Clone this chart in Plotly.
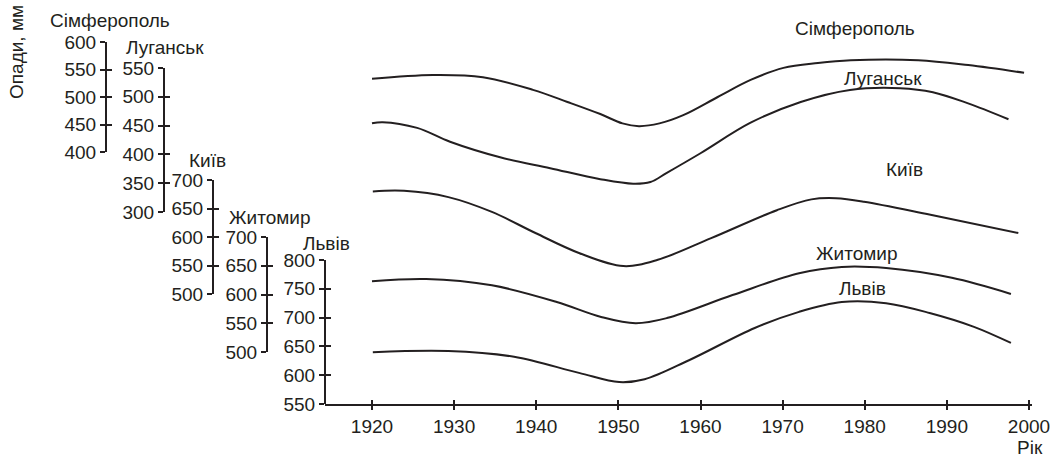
import plotly.graph_objects as go

# ---- data ----
simf_years = [1920.0, 1927.4, 1933.5, 1939.6, 1943.8, 1947.8, 1950.5, 1952.5, 1955.0, 1957.9, 1962.1, 1966.1, 1970.1, 1974.3, 1978.3, 1986.5, 1992.6, 1999.4]
simf_vals = [533, 540, 536, 513, 491, 469, 452, 447, 452, 467, 500, 531, 553, 562, 567, 567, 558, 544]

luh_years = [1920.0, 1921.3, 1925.5, 1929.5, 1935.6, 1941.7, 1947.8, 1951.8, 1953.9, 1955.9, 1960.0, 1966.1, 1972.2, 1978.2, 1984.3, 1988.3, 1992.5, 1997.5]
luh_vals = [454, 456, 446, 422, 395, 376, 357, 349, 352, 368, 402, 455, 491, 512, 515, 508, 489, 461]

kyiv_years = [1920.1, 1923.9, 1929.3, 1934.6, 1939.9, 1945.2, 1950.6, 1954.8, 1961.3, 1969.3, 1973.5, 1976.5, 1979.9, 1988.0, 1998.7]
kyiv_vals = [680, 681, 670, 644, 607, 572, 549, 560, 598, 647, 666, 668, 662, 639, 607]

zhyt_years = [1920.0, 1926.6, 1934.6, 1942.5, 1947.9, 1952.1, 1955.9, 1963.9, 1972.0, 1977.2, 1982.6, 1990.6, 1997.8]
zhyt_vals = [623, 627, 616, 587, 561, 550, 559, 599, 637, 648, 646, 629, 601]

lviv_years = [1920.1, 1929.3, 1937.3, 1945.2, 1950.1, 1953.2, 1958.6, 1966.6, 1972.0, 1977.2, 1982.6, 1987.9, 1993.3, 1997.8]
lviv_vals = [640, 642, 632, 604, 588, 593, 626, 682, 710, 727, 725, 708, 684, 656]

year_ticks = [1920, 1930, 1940, 1950, 1960, 1970, 1980, 1990, 2000]
simf_ticks = [400, 450, 500, 550, 600]
luh_ticks = [300, 350, 400, 450, 500, 550]
kyiv_ticks = [500, 550, 600, 650, 700]
zhyt_ticks = [500, 550, 600, 650, 700]
lviv_ticks = [550, 600, 650, 700, 750, 800]

station_names = ["Сімферополь", "Луганськ", "Київ", "Житомир", "Львів"]

# ---- layout helpers ----
W, H = 1058, 463
INK = "#231f20"
FONT = "Liberation Sans, Arial, sans-serif"
FS = 19

def px(xp):
    return xp / W

def py(yp):
    return 1 - yp / H

# y axis pixel geometry: (x position, top pixel, bottom pixel)
geom = [
    (106, 42, 152),
    (164, 68, 212),
    (213, 180, 294),
    (267, 237, 352),
    (325, 260, 404),
]
ranges = [
    [min(simf_ticks), max(simf_ticks)],
    [min(luh_ticks), max(luh_ticks)],
    [min(kyiv_ticks), max(kyiv_ticks)],
    [min(zhyt_ticks), max(zhyt_ticks)],
    [min(lviv_ticks), max(lviv_ticks)],
]
tick_sets = [simf_ticks, luh_ticks, kyiv_ticks, zhyt_ticks, lviv_ticks]
series = [
    (simf_years, simf_vals),
    (luh_years, luh_vals),
    (kyiv_years, kyiv_vals),
    (zhyt_years, zhyt_vals),
    (lviv_years, lviv_vals),
]

x_left_px, x_right_px = 325, 1032
px_per_year = (1029 - 372) / 80
x_range = [1920 - (372 - x_left_px) / px_per_year, 2000 + (x_right_px - 1029) / px_per_year]

fig = go.Figure()

for i, ((xs, ys), name) in enumerate(zip(series, station_names)):
    yname = "y" if i == 0 else f"y{i+1}"
    fig.add_trace(go.Scatter(x=xs, y=ys, mode="lines", name=name, yaxis=yname, xaxis="x",
                             line=dict(color=INK, width=2, shape="spline", smoothing=1.0),
                             hoverinfo="x+y", showlegend=False))
# empty traces so the overlay tick axes get drawn
for i in range(5):
    fig.add_trace(go.Scatter(x=[None], y=[None], xaxis="x", yaxis=f"y{i+6}", showlegend=False, hoverinfo="skip"))
fig.add_trace(go.Scatter(x=[None], y=[None], xaxis="x2", yaxis="y5", showlegend=False, hoverinfo="skip"))

layout = dict(
    width=W, height=H,
    margin=dict(l=0, r=0, t=0, b=0),
    paper_bgcolor="white", plot_bgcolor="rgba(0,0,0,0)",
    font=dict(family=FONT, size=FS, color=INK),
    showlegend=False,
)

common_x = dict(
    domain=[px(x_left_px), px(x_right_px)], range=x_range,
    showgrid=False, zeroline=False, fixedrange=True, automargin=False,
)
layout["xaxis"] = dict(common_x, anchor="y5", showline=True, linecolor=INK, linewidth=2,
                       tickmode="array", tickvals=year_ticks, ticks="outside", ticklen=4, tickwidth=2,
                       tickcolor=INK, tickfont=dict(family=FONT, size=FS, color=INK))
layout["xaxis2"] = dict(common_x, anchor="y5", overlaying="x", showline=False,
                        tickmode="array", tickvals=year_ticks, ticks="inside", ticklen=4, tickwidth=2,
                        tickcolor=INK, showticklabels=False)

for i, ((xp, top, bot), rng, tv) in enumerate(zip(geom, ranges, tick_sets)):
    key = "yaxis" if i == 0 else f"yaxis{i+1}"
    layout[key] = dict(
        domain=[py(bot), py(top)], range=rng, anchor="free", position=px(xp), side="left",
        showgrid=False, zeroline=False, fixedrange=True, automargin=False,
        showline=True, linecolor=INK, linewidth=2,
        tickmode="array", tickvals=tv, ticks="outside", ticklen=5, tickwidth=2, tickcolor=INK,
        tickfont=dict(family=FONT, size=FS, color=INK),
    )
    base = "y" if i == 0 else f"y{i+1}"
    layout[f"yaxis{i+6}"] = dict(
        overlaying=base, range=rng, anchor="free", position=px(xp), side="left",
        showgrid=False, zeroline=False, fixedrange=True, automargin=False,
        showline=False, tickmode="array", tickvals=tv, ticks="inside", ticklen=5, tickwidth=2,
        tickcolor=INK, showticklabels=False,
    )

fig.update_layout(**layout)

# axis titles / station labels
label_pos = [(110, 20), (165, 47), (207, 161), (269, 217), (326, 243)]
curve_label_pos = [(855, 28), (883, 78), (904, 169), (856, 253), (862, 288)]
ann = []
for name, (lx, ly) in zip(station_names, label_pos):
    ann.append(dict(x=px(lx), y=py(ly), xref="paper", yref="paper", text=name, showarrow=False,
                    xanchor="center", yanchor="middle", font=dict(family=FONT, size=FS, color=INK)))
for name, (lx, ly) in zip(station_names, curve_label_pos):
    ann.append(dict(x=px(lx), y=py(ly), xref="paper", yref="paper", text=name, showarrow=False,
                    xanchor="center", yanchor="middle", font=dict(family=FONT, size=FS, color=INK)))
ann.append(dict(x=px(16), y=py(52), xref="paper", yref="paper", text="Опади, мм", showarrow=False,
                textangle=-90, xanchor="center", yanchor="middle", font=dict(family=FONT, size=FS, color=INK)))
ann.append(dict(x=px(1030), y=py(447), xref="paper", yref="paper", text="Рік", showarrow=False,
                xanchor="center", yanchor="middle", font=dict(family=FONT, size=FS, color=INK)))
fig.update_layout(annotations=ann)

fig.write_html("out.html", config={"displayModeBar": False},
               post_script="document.body.style.margin='0px';document.body.style.overflow='hidden';")
